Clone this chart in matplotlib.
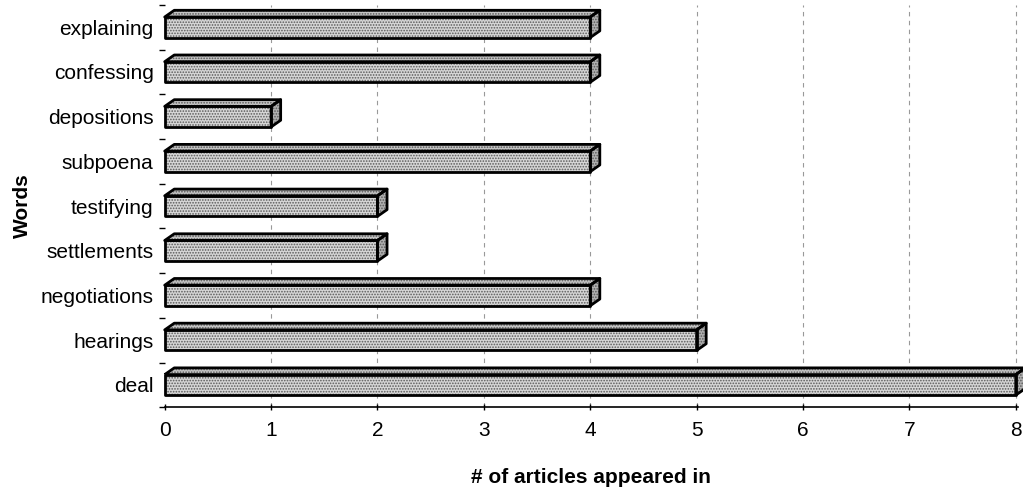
import matplotlib
matplotlib.use("Agg")
import matplotlib.pyplot as plt
from matplotlib.patches import Polygon

# data, bottom to top
words = ["deal", "hearings", "negotiations", "settlements", "testifying",
         "subpoena", "depositions", "confessing", "explaining"]
counts = [8, 5, 4, 2, 2, 4, 1, 4, 4]
x_ticks = [0, 1, 2, 3, 4, 5, 6, 7, 8]

plt.rcParams["font.family"] = ["Liberation Sans", "DejaVu Sans"]
plt.rcParams["hatch.linewidth"] = 0.8

fig = plt.figure(figsize=(10.23, 4.93), dpi=100)
ax = fig.add_axes([0.161, 0.174, 0.834, 0.816])

# 3D-ish bar geometry (data units)
h = 0.46     # front face height
dx = 0.09    # depth offset in x
dy = 0.15    # depth offset in y

for xv in x_ticks[1:]:
    ax.axvline(xv, color="#999999", lw=0.8, ls=(0, (4, 4)), zorder=0)

for i, v in enumerate(counts):
    y0 = i - h / 2
    y1 = i + h / 2
    front = [(0, y0), (v, y0), (v, y1), (0, y1)]
    top = [(0, y1), (v, y1), (v + dx, y1 + dy), (dx, y1 + dy)]
    side = [(v, y0), (v + dx, y0 + dy), (v + dx, y1 + dy), (v, y1)]
    for pts, fc in [(front, "#d6d6d6"), (top, "#c4c4c4"), (side, "#b0b0b0")]:
        ax.add_patch(Polygon(pts, closed=True, facecolor=fc, edgecolor="#5a5a5a",
                             hatch="......", lw=0, zorder=2, clip_on=False))
        ax.add_patch(Polygon(pts, closed=True, facecolor="none", edgecolor="black",
                             lw=2.0, joinstyle="round", zorder=3, clip_on=False))

ax.set_xlim(0, 8.02)
ax.set_ylim(-0.5, 8.5)
ax.set_yticks(range(len(words)))
ax.set_yticklabels(words, fontsize=15)
ax.set_yticks([i - 0.5 for i in range(len(words) + 1)], minor=True)
ax.tick_params(axis="y", which="major", length=0, pad=8)
ax.tick_params(axis="y", which="minor", length=4, width=1)
ax.set_xticks(x_ticks)
ax.set_xticklabels([str(t) for t in x_ticks], fontsize=15)
ax.tick_params(axis="x", length=4, width=1, direction="inout", pad=8)

for s in ["top", "right", "left"]:
    ax.spines[s].set_visible(False)
ax.spines["bottom"].set_linewidth(1.2)

ax.set_xlabel("# of articles appeared in", fontsize=15, fontweight="bold", labelpad=20)
ax.set_ylabel("Words", fontsize=15, fontweight="bold", labelpad=6)

fig.savefig("out.png", dpi=100)
